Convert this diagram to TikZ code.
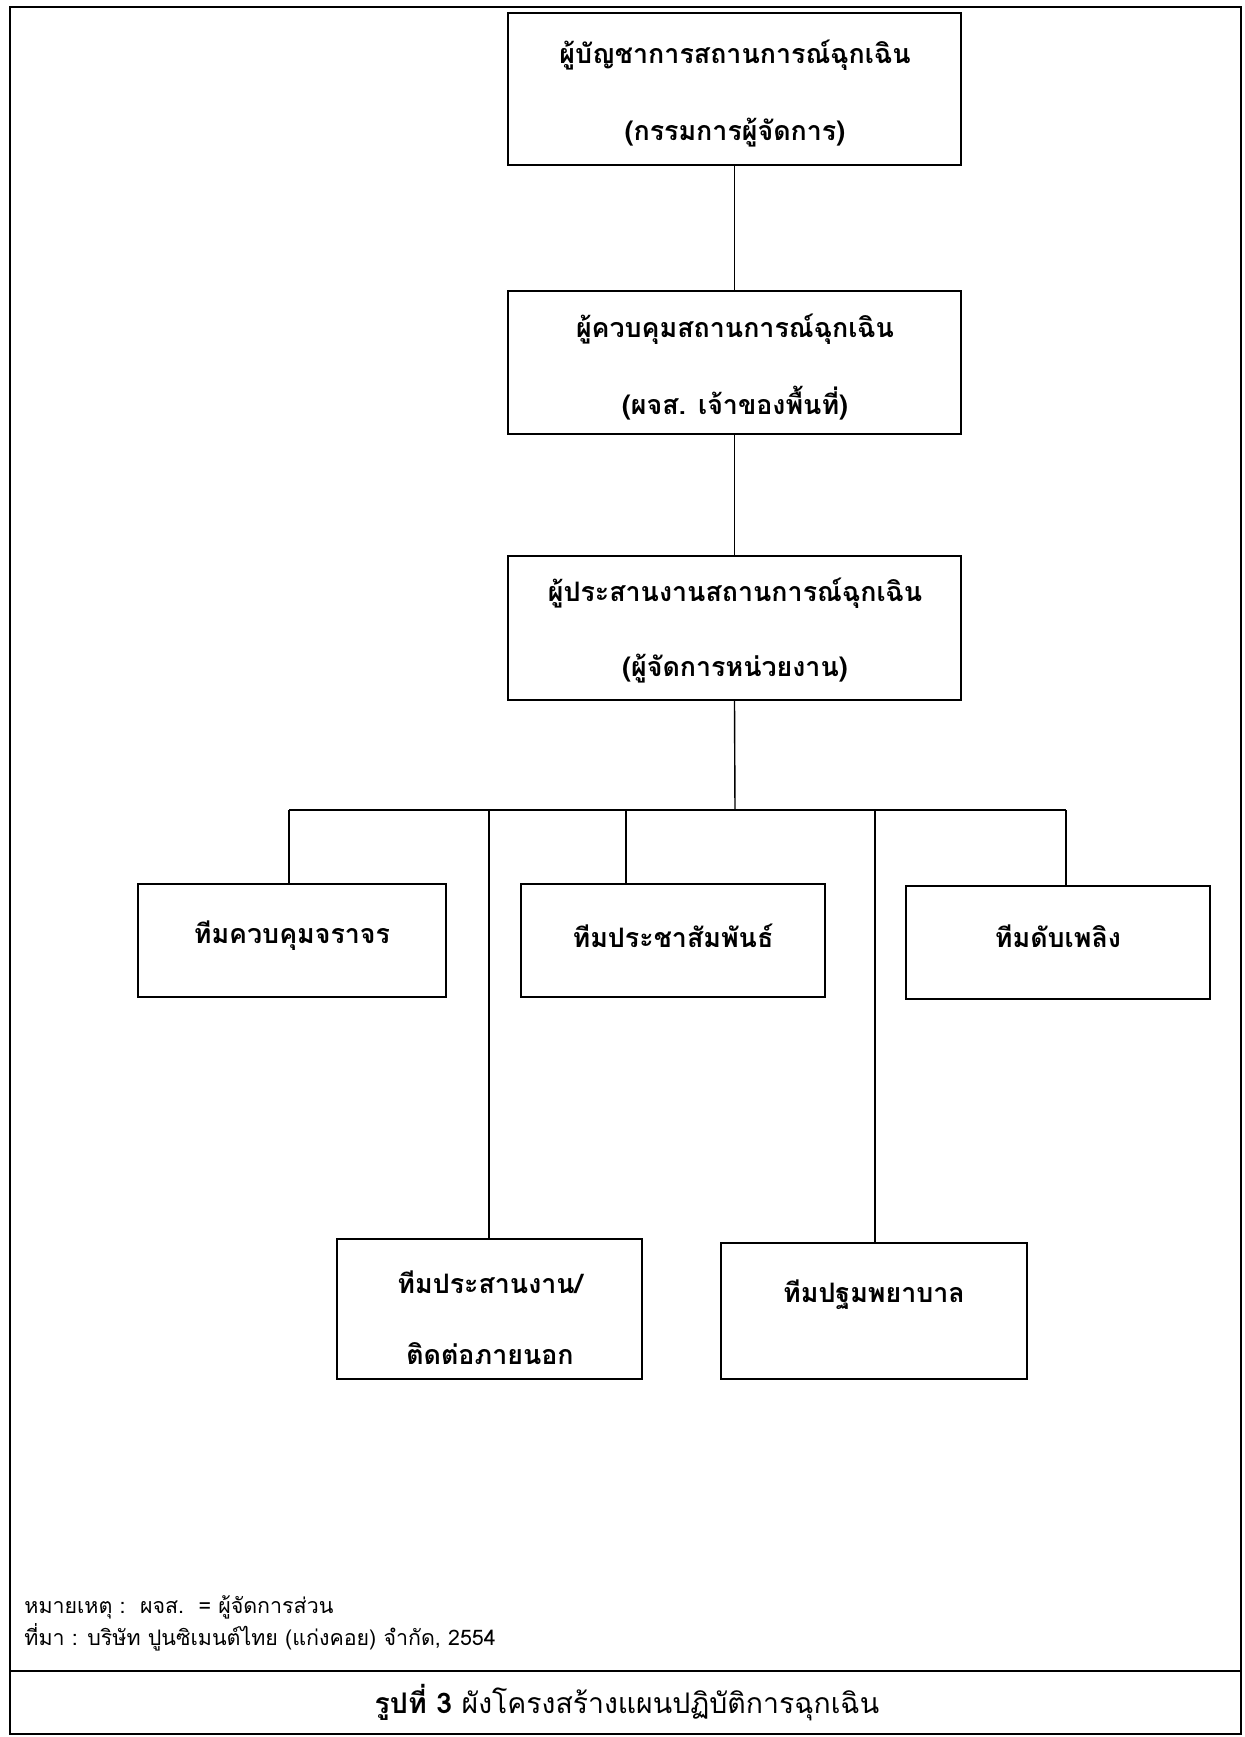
\documentclass[tikz,border=0pt]{standalone}
\usepackage{fontspec}
\newfontfamily\thai[Script=Thai]{Loma}
\begin{document}
\begin{tikzpicture}[x=0.5pt,y=-0.5pt,
  box/.style={draw,line width=1.1pt,inner sep=0,anchor=center},
  conn/.style={line width=0.7pt},
  lbl/.style={font=\thai\bfseries\fontsize{13.4}{16}\selectfont,anchor=center,inner sep=0},
  note/.style={font=\thai\fontsize{10.7}{13}\selectfont,anchor=west,inner sep=0}]
\useasboundingbox (0,0) rectangle (1244,1737);
\draw[line width=1pt] (10,7) rectangle (1241,1734);
\draw[line width=1pt] (10,1671) -- (1241,1671);
% boxes
\node[box,minimum width=226.5pt,minimum height=76pt] (b1) at (734.5,89) {};
\node[box,minimum width=226.5pt,minimum height=71.5pt] (b2) at (734.5,362.5) {};
\node[box,minimum width=226.5pt,minimum height=72pt] (b3) at (734.5,628) {};
\node[box,minimum width=154pt,minimum height=56.5pt] (bA) at (292,940.5) {};
\node[box,minimum width=152pt,minimum height=56.5pt] (bB) at (673,940.5) {};
\node[box,minimum width=152pt,minimum height=56.5pt] (bC) at (1058,942.5) {};
\node[box,minimum width=152.5pt,minimum height=70pt] (bD) at (489.5,1309) {};
\node[box,minimum width=153pt,minimum height=68pt] (bE) at (874,1311) {};
% labels
\node[lbl] (t1a) at (735,55) {ผู้บัญชาการสถานการณ์ฉุกเฉิน};
\node[lbl] (t1b) at (735,133) {(กรรมการผู้จัดการ)};
\node[lbl] (t2a) at (735,329) {ผู้ควบคุมสถานการณ์ฉุกเฉิน};
\node[lbl] (t2b) at (735,403) {(ผจส. เจ้าของพื้นที่)};
\node[lbl] (t3a) at (735,593) {ผู้ประสานงานสถานการณ์ฉุกเฉิน};
\node[lbl] (t3b) at (735,669) {(ผู้จัดการหน่วยงาน)};
\node[lbl] (tA) at (292,936) {ทีมควบคุมจราจร};
\node[lbl] (tB) at (673,936) {ทีมประชาสัมพันธ์};
\node[lbl] (tC) at (1058,936) {ทีมดับเพลิง};
\node[lbl] (tDa) at (490,1282) {ทีมประสานงาน/};
\node[lbl] (tDb) at (490,1354) {ติดต่อภายนอก};
\node[lbl] (tE) at (874,1295) {ทีมปฐมพยาบาล};
% connectors
\coordinate (bus) at (735,810);
\coordinate (jA) at (289,810);
\coordinate (jD) at (489,810);
\coordinate (jB) at (626,810);
\coordinate (jE) at (875,810);
\coordinate (jC) at (1066,810);
\draw[conn] (b1.south) -- (b2.north);
\draw[conn] (b2.south) -- (b3.north);
\draw[conn] (b3.south) -- (bus);
\draw[conn] (jA) -- (jC);
\draw[conn] (jA) -- (jA |- bA.north);
\draw[conn] (jD) -- (jD |- bD.north);
\draw[conn] (jB) -- (jB |- bB.north);
\draw[conn] (jE) -- (jE |- bE.north);
\draw[conn] (jC) -- (jC |- bC.north);
% notes
\node[note] (n1) at (24,1607) {หมายเหตุ :\ \ ผจส.\ \ = ผู้จัดการส่วน};
\node[note] (n2) at (24,1637) {ที่มา : บริษัท ปูนซิเมนต์ไทย (แก่งคอย) จำกัด, 2554};
\node[font=\thai\fontsize{14.2}{17}\selectfont,inner sep=0] (cap) at (627,1703) {{\bfseries รูปที่ 3} ผังโครงสร้างแผนปฏิบัติการฉุกเฉิน};
\end{tikzpicture}
\end{document}
